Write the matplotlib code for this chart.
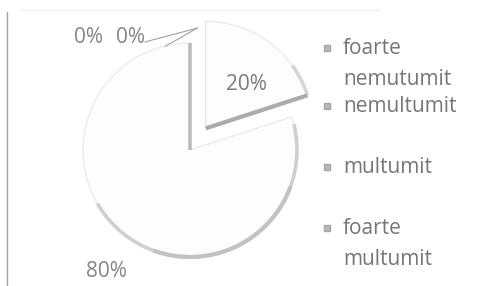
import matplotlib
matplotlib.use("Agg")
import matplotlib.pyplot as plt
from matplotlib.patches import Arc
import numpy as np

categories = ["foarte\nnemutumit", "nemultumit", "multumit", "foarte\nmultumit"]
values = [0, 0, 20, 80]
pct_labels = ["0%", "0%", "20%", "80%"]

plt.rcParams['font.family'] = ['Open Sans', 'DejaVu Sans']

W, H = 489, 286
fig = plt.figure(figsize=(W / 100, H / 100), dpi=100)
fig.patch.set_facecolor('white')
ax = fig.add_axes([0, 0, 1, 1])

cx, cy, r = 190, 150, 107  # pixel center and radius of the pie
wedges, _ = ax.pie(values, startangle=90, counterclock=False,
                   explode=[0, 0, 0.25, 0], radius=1, center=(0, 0),
                   colors=['#fdfdfd'] * 4,
                   wedgeprops=dict(edgecolor='#ebebeb', linewidth=1.0))
ax.set_aspect('auto')
ax.set_xlim(-cx / r, (W - cx) / r)
ax.set_ylim(-(H - cy) / r, cy / r)
ax.axis('off')

# scanned-looking shading on some wedge edges
w20, w80 = wedges[2], wedges[3]
c80 = np.array(w80.center)
c20 = np.array(w20.center)
a = np.deg2rad(w80.theta1)
ax.plot([c80[0], c80[0] + w80.r * np.cos(a)], [c80[1], c80[1] + w80.r * np.sin(a)],
        color='#bdbdbd', lw=2.6, solid_capstyle='butt')
a = np.deg2rad(w20.theta1)
ax.plot([c20[0], c20[0] + w20.r * np.cos(a)], [c20[1], c20[1] + w20.r * np.sin(a)],
        color='#ababab', lw=3.0, solid_capstyle='butt')
ax.add_patch(Arc(tuple(c80), 2 * w80.r, 2 * w80.r, theta1=-150, theta2=w80.theta2 - 4,
                 color='#cfcfcf', lw=2.6))
ax.add_patch(Arc(tuple(c80), 2 * w80.r, 2 * w80.r, theta1=-110, theta2=-20,
                 color='#c2c2c2', lw=3.0))
ax.add_patch(Arc(tuple(c20), 2 * w20.r, 2 * w20.r, theta1=w20.theta1, theta2=w20.theta1 + 18,
                 color='#d6d6d6', lw=2.6))

txt_color = '#858585'
fs = 15
# data labels
ax.text(-0.95, 1.05, pct_labels[0], ha='center', va='center', fontsize=fs, color=txt_color)
ax.text(-0.56, 1.05, pct_labels[1], ha='center', va='center', fontsize=fs, color=txt_color)
ax.text(0.53, 0.61, pct_labels[2], ha='center', va='center', fontsize=fs, color='#7a7a7a')
ax.text(-0.78, -1.14, pct_labels[3], ha='center', va='center', fontsize=fs, color=txt_color)
# leader lines for the zero slices
ax.plot([-0.42, 0.07], [1.01, 1.14], color='#a0a0a0', lw=0.8)
ax.plot([-0.23, 0.07], [0.97, 1.14], color='#a0a0a0', lw=0.8)

# legend (manual)
item_y = [0.804, 0.411, -0.159, -0.879]
marker_y = [0.953, 0.411, -0.159, -0.729]
for lab, ty, my in zip(categories, item_y, marker_y):
    ax.plot([1.28], [my], marker='s', markersize=5, color='#b8b8b8', markeredgecolor='#a5a5a5')
    ax.text(1.43, ty, lab, ha='left', va='center', fontsize=fs, color='#767676', linespacing=1.6)

# frame lines from the scanned chart border
fig.add_artist(plt.Line2D([7 / W, 7 / W], [0, 1 - 12 / H], transform=fig.transFigure, color='#a0a0a0', lw=1))
fig.add_artist(plt.Line2D([20 / W, 380 / W], [1 - 10 / H, 1 - 10 / H], transform=fig.transFigure, color='#f0f0f0', lw=1))

fig.savefig('out.png', dpi=100, facecolor='white')
